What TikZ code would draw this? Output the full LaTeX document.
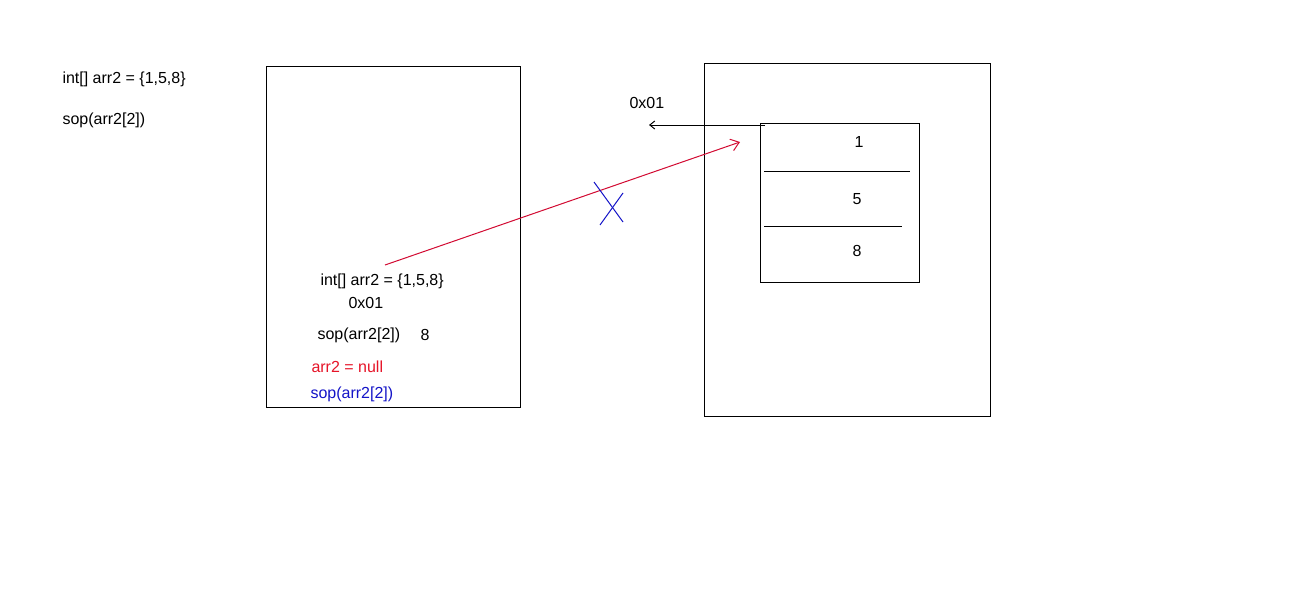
\documentclass[tikz,border=0pt]{standalone}
\usepackage{fontspec}
\setmainfont{Liberation Sans}
\usetikzlibrary{arrows.meta}
\definecolor{nullred}{RGB}{230,20,40}
\definecolor{linered}{RGB}{210,10,50}
\definecolor{sopblue}{RGB}{20,20,200}
\tikzset{
  txt/.style={right,inner sep=0pt,font=\fontsize{16}{18}\selectfont},
  num/.style={inner sep=0pt,font=\fontsize{16}{18}\selectfont},
}
\begin{document}
\begin{tikzpicture}[x=1pt,y=-1pt,line width=1pt]
\useasboundingbox[fill=white] (0,0) rectangle (1295,600);
% code on the left
\node[txt] (decl) at (62,79) {int[] arr2 = \{1,5,8\}};
\node[txt] (print) at (62,120) {sop(arr2[2])};
% stack
\draw (266,66) rectangle (520,407);
\node[txt] (sdecl) at (320,281) {int[] arr2 = \{1,5,8\}};
\node[txt] (saddr) at (348,303) {0x01};
\node[txt] (sprint) at (317,335) {sop(arr2[2])};
\node[txt] (sval) at (420,335) {8};
\node[txt,text=nullred] (snull) at (311,367) {arr2 = null};
\node[txt,text=sopblue] (sprint2) at (310,394) {sop(arr2[2])};
% heap
\draw (704,63) rectangle (990,416);
\draw (760,123) rectangle (919,282);
\draw (764,171)--(910,171);
\draw (764,226)--(902,226);
\node[num] (one) at (859,142) {1};
\node[num] (five) at (857,199) {5};
\node[num] (eight) at (857,251) {8};
\node[txt] (haddr) at (629,103) {0x01};
\coordinate (arrtop) at (765,125);
\coordinate (addrend) at (649,125);
\draw[-{Straight Barb[length=5pt,width=8pt]}] (arrtop)--(addrend);
% reference, cut
\coordinate (refstart) at (385,265);
\coordinate (refend) at (740,142);
\draw[linered,-{Straight Barb[length=8pt,width=12pt]}] (refstart)--(refend);
\draw[sopblue] (594,182)--(623,222);
\draw[sopblue] (600,225)--(623,193);
\end{tikzpicture}
\end{document}
